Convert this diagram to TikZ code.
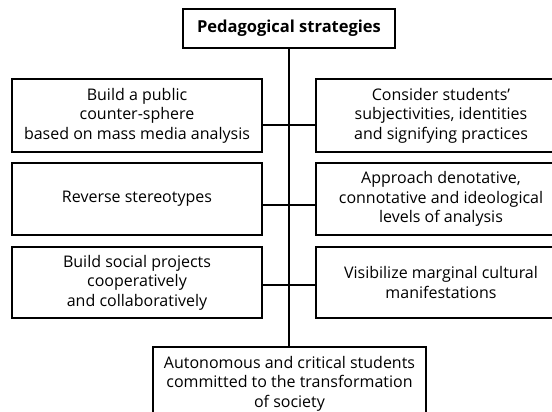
\documentclass[tikz,border=0pt]{standalone}
\usepackage{fontspec}
\setmainfont{Open Sans}
\usetikzlibrary{positioning}

\begin{document}
\begin{tikzpicture}[
        x=1pt, y=-1pt,
        strat/.style={rectangle, draw=black, line width=2.6pt, text=black, align=center, minimum width=250pt, font=\fontsize{16}{19.5}\selectfont},
        head/.style={rectangle, draw=black, line width=2.6pt, text=black, align=center, font=\fontsize{16.5}{19.5}\selectfont\bfseries},
        link/.style={line width=2.6pt, black}
    ]
    \useasboundingbox (0,0) rectangle (552,412);

    % Top - heading
    \node[head, minimum width=212pt, minimum height=39pt] (ped) at (289, 28.5) {Pedagogical strategies};

    % Left column
    \node[strat, minimum height=73pt] (L1) at (137, 115.5) {Build a public\\counter-sphere\\based on mass media analysis};
    \node[strat, minimum height=72pt] (L2) at (137, 199) {Reverse stereotypes};
    \node[strat, minimum height=71pt] (L3) at (137, 282.5) {Build social projects\\cooperatively\\and collaboratively};

    % Right column
    \node[strat, minimum height=73pt] (R1) at (441, 115.5) {Consider students'\\subjectivities, identities\\and signifying practices};
    \node[strat, minimum height=72pt] (R2) at (441, 199) {Approach denotative,\\connotative and ideological\\levels of analysis};
    \node[strat, minimum height=71pt] (R3) at (441, 282.5) {Visibilize marginal cultural\\manifestations};

    % Bottom - outcome
    \node[strat, minimum width=273pt, minimum height=73pt] (goal) at (289.5, 383.5) {Autonomous and critical students\\committed to the transformation\\of society};

    % spine and branches
    \coordinate (j1) at (289, 125);
    \coordinate (j2) at (289, 205);
    \coordinate (j3) at (289, 285);
    \draw[link] (ped) -- (ped |- goal.north);
    \draw[link] (L1.east |- j1) -- (R1.west |- j1);
    \draw[link] (L2.east |- j2) -- (R2.west |- j2);
    \draw[link] (L3.east |- j3) -- (R3.west |- j3);
    % \draw[link] (L1) -- (L2);
\end{tikzpicture}
\end{document}
